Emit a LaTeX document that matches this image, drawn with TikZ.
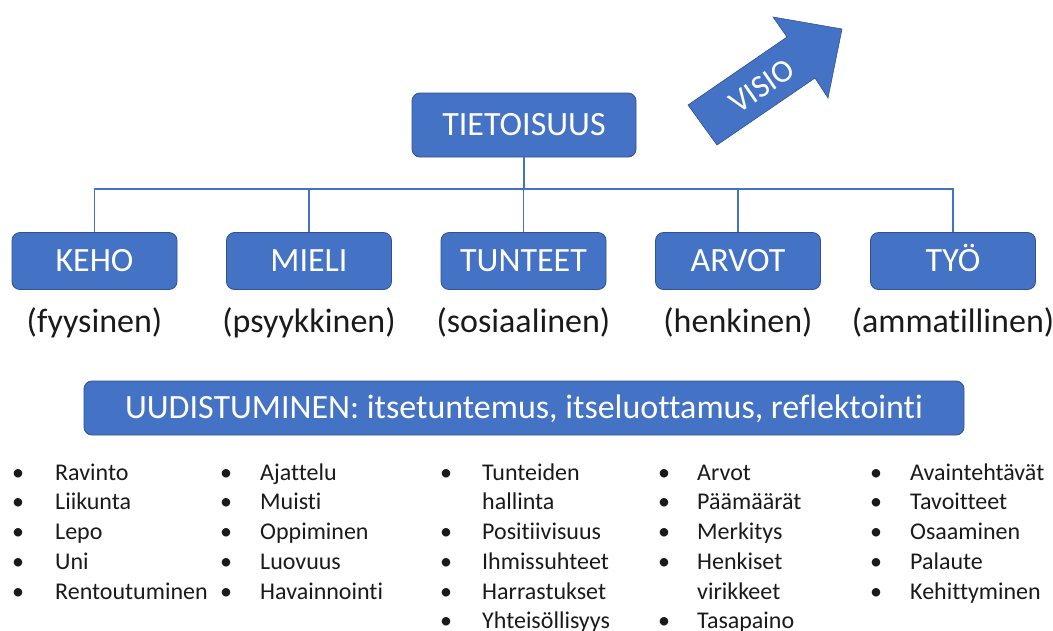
\documentclass[tikz,border=0pt]{standalone}
\usepackage{fontspec}
\setmainfont{Carlito}[Ligatures={NoCommon}]
\usepackage{array}
\definecolor{boxblue}{HTML}{4472C4}
\definecolor{boxedge}{HTML}{2F528F}
\definecolor{inkgray}{HTML}{1A1A1A}
\newcommand{\itemcol}[2]{%
  {\fontsize{24}{29.75}\selectfont
   \begin{tabular}[t]{@{}p{#1}@{}l@{}}#2\end{tabular}}}
\begin{document}
\begin{tikzpicture}[x=1pt,y=-1pt,
  bluebox/.style={draw=boxedge, line width=0.8pt, fill=boxblue, rounded corners=8pt,
    text=white, font=\fontsize{34}{40}\selectfont, inner sep=0pt,
    text height=21.6pt, text depth=0pt},
  subtitle/.style={anchor=base, text=inkgray, font=\fontsize{34}{40}\selectfont, inner sep=0pt},
  bus/.style={draw=boxblue, line width=1.2pt},
  listcol/.style={anchor=base west, inner sep=0pt, text=inkgray}]
\useasboundingbox (0,0) rectangle (1053,630);

% top node
\node[bluebox, minimum width=224pt, minimum height=64pt] (top) at (524,125) {TIETOISUUS};

% five areas
\node[bluebox, minimum width=165pt, minimum height=57pt] (keho)    at (94.5,261) {KEHO};
\node[bluebox, minimum width=165pt, minimum height=57pt] (mieli)   at (309,261) {MIELI};
\node[bluebox, minimum width=165pt, minimum height=57pt] (tunteet) at (523.5,261) {TUNTEET};
\node[bluebox, minimum width=165pt, minimum height=57pt] (arvot)   at (738,261) {ARVOT};
\node[bluebox, minimum width=165pt, minimum height=57pt] (tyo)     at (953,261) {TYÖ};

% tree connectors
\coordinate (busmid) at (524,189);
\draw[bus] (top.south) -- (busmid);
\foreach \n in {keho,mieli,tunteet,arvot,tyo}
  \draw[bus] (\n.north) |- (busmid);

% subtitles
\node[subtitle] (s1) at (94.5,332) {(fyysinen)};
\node[subtitle] (s2) at (309,332) {(psyykkinen)};
\node[subtitle] (s3) at (523.5,332) {(sosiaalinen)};
\node[subtitle] (s4) at (738,332) {(henkinen)};
\node[subtitle] (s5) at (953,332) {(ammatillinen)};

% renewal bar
\node[bluebox, minimum width=880pt, minimum height=54pt]
  (uud) at (524,408) {UUDISTUMINEN: itsetuntemus, itseluottamus, reflektointi};

% bullet lists
\node[listcol] (l1) at (12,480) {\itemcol{43pt}{%
  • & Ravinto\\ • & Liikunta\\ • & Lepo\\ • & Uni\\ • & Rentoutuminen}};
\node[listcol] (l2) at (220,480) {\itemcol{40pt}{%
  • & Ajattelu\\ • & Muisti\\ • & Oppiminen\\ • & Luovuus\\ • & Havainnointi}};
\node[listcol] (l3) at (440,480) {\itemcol{42pt}{%
  • & Tunteiden\\ & hallinta\\ • & Positiivisuus\\ • & Ihmissuhteet\\ • & Harrastukset\\ • & Yhteisöllisyys}};
\node[listcol] (l4) at (658,480) {\itemcol{39pt}{%
  • & Arvot\\ • & Päämäärät\\ • & Merkitys\\ • & Henkiset\\ & virikkeet\\ • & Tasapaino}};
\node[listcol] (l5) at (870,480) {\itemcol{40pt}{%
  • & Avaintehtävät\\ • & Tavoitteet\\ • & Osaaminen\\ • & Palaute\\ • & Kehittyminen}};

% vision arrow
\fill[boxblue, draw=boxedge, line width=0.6pt]
  (688,105) -- (787,37) -- (773,17) -- (842,29) -- (828,98) -- (815,78) -- (717,145) -- cycle;
\node[text=white, rotate=34.5, font=\fontsize{32}{36}\selectfont, inner sep=0pt] (visio) at (762,86) {VISIO};
\end{tikzpicture}
\end{document}
